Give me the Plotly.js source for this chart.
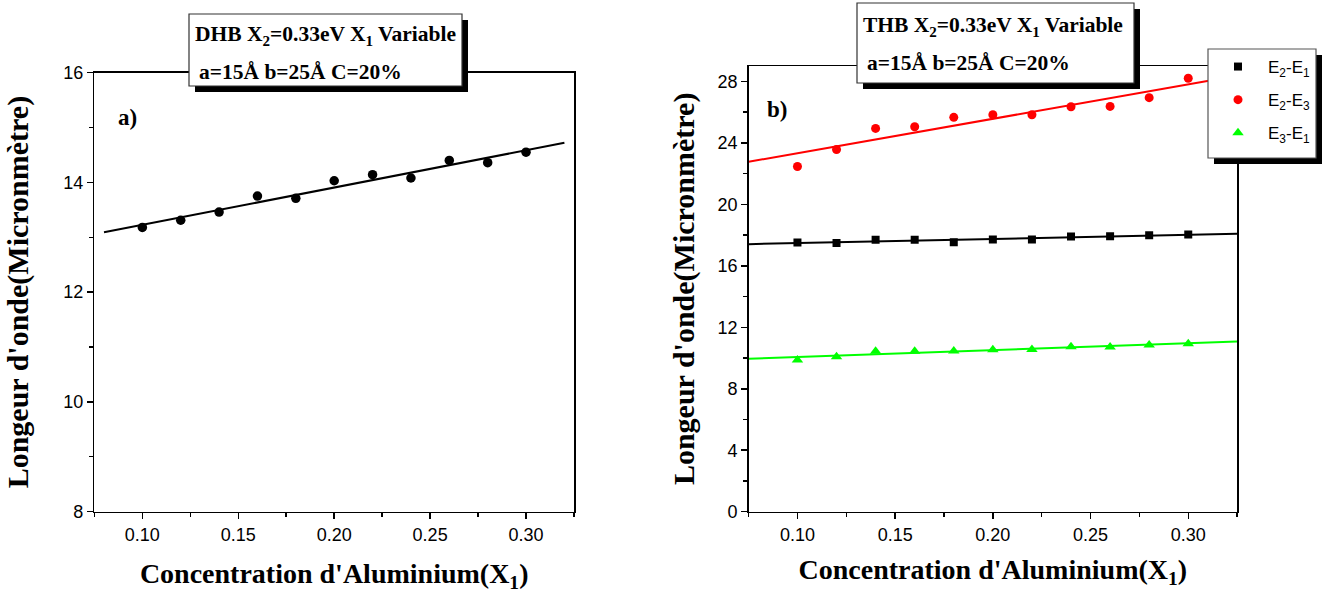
<!DOCTYPE html>
<html>
<head>
<meta charset="utf-8">
<script src="https://cdn.plot.ly/plotly-3.0.1.min.js"></script>
<style>html,body{margin:0;padding:0;background:#fff;}#chart{width:1326px;height:594px;}</style>
</head>
<body>
<div id="chart"></div>
<script>
// ---- data ----
var xConc = [0.10, 0.12, 0.14, 0.16, 0.18, 0.20, 0.22, 0.24, 0.26, 0.28, 0.30];
var dhbValues = [13.18, 13.31, 13.46, 13.75, 13.71, 14.03, 14.14, 14.08, 14.40, 14.36, 14.55];
var thbE21 = [17.51, 17.49, 17.69, 17.69, 17.54, 17.71, 17.71, 17.90, 17.92, 17.99, 18.03];
var thbE23 = [22.46, 23.57, 24.94, 25.05, 25.66, 25.83, 25.83, 26.35, 26.37, 26.94, 28.20];
var thbE31 = [9.87, 10.09, 10.44, 10.44, 10.46, 10.54, 10.56, 10.74, 10.72, 10.85, 10.92];
var seriesNames = ['E<sub>2</sub>-E<sub>1</sub>', 'E<sub>2</sub>-E<sub>3</sub>', 'E<sub>3</sub>-E<sub>1</sub>'];
var fitSpanA = [0.08, 0.32];
var fitSpanB = [0.075, 0.325];
var xTitle = "Concentration d'Aluminium(X<sub>1</sub>)";
var yTitle = "Longeur d'onde(Micronmètre)";
var boxLine1A = "DHB X<sub>2</sub>=0.33eV X<sub>1</sub> Variable";
var boxLine1B = "THB X<sub>2</sub>=0.33eV X<sub>1</sub> Variable";
var boxLine2 = "a=15Å b=25Å C=20%";

// ---- helpers ----
var W = 1326, H = 594;
function px(x){ return x / W; }
function py(y){ return 1 - y / H; }
function linFit(xs, ys, span){
  var n = xs.length, mx = 0, my = 0;
  for (var i = 0; i < n; i++){ mx += xs[i]; my += ys[i]; }
  mx /= n; my /= n;
  var sxy = 0, sxx = 0;
  for (var j = 0; j < n; j++){ sxy += (xs[j]-mx)*(ys[j]-my); sxx += (xs[j]-mx)*(xs[j]-mx); }
  var b = sxy / sxx, a = my - b*mx;
  return {x: span.slice(), y: span.map(function(v){ return a + b*v; })};
}

var fA = linFit(xConc, dhbValues, fitSpanA);
var f21 = linFit(xConc, thbE21, fitSpanB);
var f23 = linFit(xConc, thbE23, fitSpanB);
var f31 = linFit(xConc, thbE31, fitSpanB);

var traces = [
  {x: fA.x, y: fA.y, mode:'lines', line:{color:'black', width:2}, showlegend:false, xaxis:'x', yaxis:'y', hoverinfo:'skip'},
  {x: xConc, y: dhbValues, mode:'markers', marker:{symbol:'circle', size:9.5, color:'black'}, showlegend:false, xaxis:'x', yaxis:'y'},
  {x: f21.x, y: f21.y, mode:'lines', line:{color:'black', width:2}, showlegend:false, xaxis:'x2', yaxis:'y2', hoverinfo:'skip'},
  {x: f23.x, y: f23.y, mode:'lines', line:{color:'#ff0000', width:2}, showlegend:false, xaxis:'x2', yaxis:'y2', hoverinfo:'skip'},
  {x: f31.x, y: f31.y, mode:'lines', line:{color:'#00ff00', width:2}, showlegend:false, xaxis:'x2', yaxis:'y2', hoverinfo:'skip'},
  {x: xConc, y: thbE21, name: seriesNames[0], legendgroup:'g1', mode:'markers', marker:{symbol:'square', size:8, color:'black'}, xaxis:'x2', yaxis:'y2'},
  {x: xConc, y: thbE23, name: seriesNames[1], legendgroup:'g2', mode:'markers', marker:{symbol:'circle', size:9, color:'#ff0000'}, xaxis:'x2', yaxis:'y2'},
  {x: xConc, y: thbE31, name: seriesNames[2], legendgroup:'g3', mode:'markers', marker:{symbol:'triangle-up', size:10, color:'#00ff00'}, xaxis:'x2', yaxis:'y2'}
];

var tickFont = {family:'Liberation Sans, Arial, sans-serif', size:18, color:'black'};
var titleFont = {family:'Liberation Serif, Times New Roman, serif', size:28, color:'black', weight:'bold'};
var yTitleFont = {family:'Liberation Serif, Times New Roman, serif', size:30, color:'black', weight:'bold'};
function axisBase(){
  return {showline:true, linecolor:'black', linewidth:1.5, mirror:true, ticks:'outside', ticklen:6, tickwidth:1.5,
          tickcolor:'black', showgrid:false, zeroline:false, tickfont:tickFont, fixedrange:true};
}
var xa = Object.assign(axisBase(), {domain:[px(94.4), px(574)], range:[0.075, 0.325], tick0:0.1, dtick:0.05, tickformat:'.2f',
  minor:{ticks:'outside', ticklen:4, tickwidth:1.5, tickcolor:'black', tick0:0.075, dtick:0.025},
  title:{text:xTitle, font:titleFont, standoff:20}, anchor:'y'});
var ya = Object.assign(axisBase(), {domain:[py(511.5), py(72.7)], range:[8, 16], tick0:8, dtick:2,
  minor:{ticks:'outside', ticklen:4, tickwidth:1.5, tickcolor:'black', tick0:8, dtick:1},
  title:{text:yTitle, font:yTitleFont, standoff:26}, anchor:'x'});
var xa2 = Object.assign(axisBase(), {domain:[px(748.6), px(1237.1)], range:[0.075, 0.325], tick0:0.1, dtick:0.05, tickformat:'.2f',
  minor:{ticks:'outside', ticklen:4, tickwidth:1.5, tickcolor:'black', tick0:0.075, dtick:0.025},
  title:{text:xTitle, font:titleFont, standoff:15}, anchor:'y2'});
var ya2 = Object.assign(axisBase(), {domain:[py(511.7), py(66)], range:[0, 29], tick0:0, dtick:4,
  minor:{ticks:'outside', ticklen:4, tickwidth:1.5, tickcolor:'black', tick0:0, dtick:2},
  title:{text:yTitle, font:yTitleFont, standoff:14}, anchor:'x2'});

function rectPx(x0, y0, x1, y1, fill, lineColor, lw){
  return {type:'rect', xref:'paper', yref:'paper', x0:px(x0), x1:px(x1), y0:py(y1), y1:py(y0),
          fillcolor:fill, line:{color:lineColor, width:lw}, layer:'above'};
}
var shapes = [
  rectPx(195, 20, 468, 92, 'black', 'black', 0),
  rectPx(189, 14, 462, 86, 'white', '#333', 1.2),
  rectPx(863, 9, 1140, 89, 'black', 'black', 0),
  rectPx(857, 3, 1134, 83, 'white', '#333', 1.2),
  rectPx(1214, 55, 1322, 164, 'black', 'black', 0),
  rectPx(1208, 49, 1316, 158, 'white', '#555', 1.2)
];

var boxFont = {family:'Liberation Serif, Times New Roman, serif', size:21.5, color:'black', weight:'bold'};
var labFont = {family:'Liberation Serif, Times New Roman, serif', size:23, color:'black', weight:'bold'};
function note(x, y, text, font){
  return {xref:'paper', yref:'paper', x:px(x), y:py(y), xanchor:'left', yanchor:'middle', text:text, showarrow:false, align:'left', font:font};
}
var annotations = [
  note(193, 36, boxLine1A, boxFont),
  note(197, 72, boxLine2, boxFont),
  note(861, 27, boxLine1B, boxFont),
  note(865, 63, boxLine2, boxFont),
  note(116, 118, 'a)', labFont),
  note(765, 110, 'b)', labFont)
];

var layout = {
  width:W, height:H, margin:{l:0, r:0, t:0, b:0, pad:0}, paper_bgcolor:'white', plot_bgcolor:'white',
  xaxis:xa, yaxis:ya, xaxis2:xa2, yaxis2:ya2,
  shapes:shapes, annotations:annotations,
  showlegend:true,
  legend:{x:px(1208), y:py(49), xanchor:'left', yanchor:'top', bgcolor:'rgba(0,0,0,0)', borderwidth:0,
          font:{family:'Liberation Sans, Arial, sans-serif', size:17, color:'black'}, traceorder:'grouped', tracegroupgap:8, itemwidth:50},
  hovermode:false
};

Plotly.newPlot('chart', traces, layout, {staticPlot:true, displayModeBar:false});
</script>
</body>
</html>
